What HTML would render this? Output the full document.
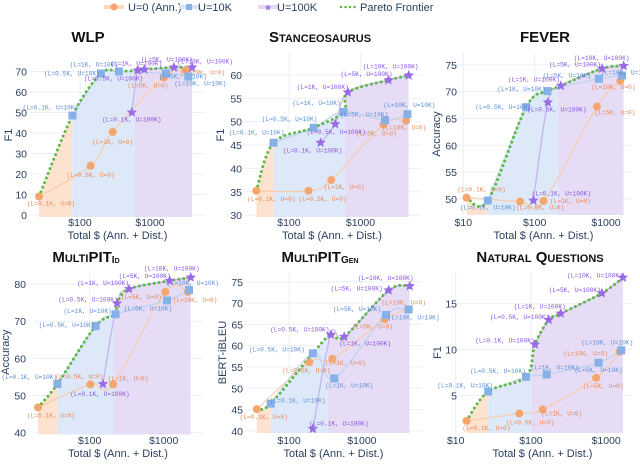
<!DOCTYPE html>
<html><head><meta charset="utf-8">
<style>
html,body{margin:0;padding:0;background:#fff;}
svg{display:block;font-family:"Liberation Sans",sans-serif;}
.tick{font-size:10.5px;fill:#2a3f5f;}
.lbl{font-family:"Liberation Mono",monospace;font-size:6.2px;}
.title{font-size:15px;font-weight:bold;fill:#111;}
.axt{font-size:11px;fill:#2a3f5f;}
</style></head>
<body>
<svg id="chart" width="640" height="476" viewBox="0 0 640 476" xmlns="http://www.w3.org/2000/svg">
<defs id="defs"></defs>
<g id="legend">
  <g>
    <rect x="104" y="5" width="20" height="4" fill="#fbd9bf"/>
    <circle cx="114" cy="7" r="3.5" fill="#f4a66e"/>
    <text x="128" y="11" font-size="11" fill="#2a3f5f">U=0 (Ann.)</text>
  </g>
  <g>
    <rect x="179" y="5" width="20" height="4" fill="#d5e4f7"/>
    <rect x="186" y="4" width="6" height="6" fill="#86b0e6"/>
    <text x="198" y="11" font-size="11" fill="#2a3f5f">U=10K</text>
  </g>
  <g>
    <rect x="258" y="5" width="20" height="4" fill="#e5d9f6"/>
    <text x="268" y="10.5" font-size="9" fill="#9a6be6" text-anchor="middle">★</text>
    <text x="277" y="11" font-size="11" fill="#2a3f5f">U=100K</text>
  </g>
  <g>
    <line x1="341" y1="7" x2="356" y2="7" stroke="#5cb946" stroke-width="2.5" stroke-dasharray="0 4.5" stroke-linecap="round"/>
    <text x="360" y="11" font-size="11" fill="#2a3f5f">Pareto Frontier</text>
  </g>
</g>
<g id="panels"></g>
</svg>
<script>
// ---- data: labeled budgets ----
const budgets = ['0.1K','0.5K','1K','5K','10K'];
const seriesU = ['0','10K','100K'];
// WLP
const wlpCostU0 = [26,142,293,1585,3240];
const wlpValU0 = [9,24,40.5,67,70.5];
const wlpCostU10 = [78,199,360,1690,3540];
const wlpValU10 = [48.5,69,70,69,67.5];
const wlpCostU100 = [550,665,830,2200,4000];
const wlpValU100 = [50,70.5,71,72,72];
const wlpPareto = ['0:0','1:0','1:1','1:2','2:1','2:2','2:3','2:4'];
// Stanceosaurus
const stCostU0 = [35,188,390,2090,4340];
const stValU0 = [35.2,35.2,37.5,49.4,50.2];
const stCostU10 = [61,221,580,2210,4530];
const stValU10 = [45.5,48.7,52.1,50.3,51.6];
const stCostU100 = [277,443,665,2460,4720];
const stValU100 = [45.5,49.5,56.3,58.9,59.9];
const stPareto = ['0:0','1:0','1:1','1:2','2:2','2:3','2:4'];
// FEVER
const fvCostU0 = [11.1,62.5,133,747,1590];
const fvValU0 = [50.25,49.5,49.6,67.2,72.0];
const fvCostU10 = [22,76,151,795,1680];
const fvValU10 = [49.7,67.1,70.1,72.4,73.0];
const fvCostU100 = [96,153,233,880,1770];
const fvValU100 = [49.7,68.0,71.1,74.3,74.8];
const fvPareto = ['0:0','1:0','1:1','1:2','2:2','2:3','2:4'];
// MultiPIT Id
const miCostU0 = [20,102,207,1050,2130];
const miValU0 = [46.8,53.0,53.0,77.9,77.9];
const miCostU10 = [36.6,120,224,1110,2200];
const miValU10 = [53.1,68.7,71.9,75.6,78.4];
const miCostU100 = [151,234,341,1205,2320];
const miValU100 = [53.1,74.8,78.7,80.9,81.8];
const miPareto = ['0:0','1:0','1:1','1:2','2:1','2:2','2:3','2:4'];
// MultiPIT Gen
const mgCostU0 = [36,190,394,2050,4380];
const mgValU0 = [45.1,56.1,56.9,66.2,68.5];
const mgCostU10 = [56,212,417,2140,4380];
const mgValU10 = [46.4,58.2,52.3,67.2,68.5];
const mgCostU100 = [212,374,571,2330,4530];
const mgValU100 = [40.5,62.6,62.1,73.0,74.0];
const mgPareto = ['0:0','1:0','1:1','2:1','2:2','2:3','2:4'];
// Natural Questions
const nqCostU0 = [13.9,70,143,736,1510];
const nqValU0 = [2.25,3.04,3.48,6.92,9.75];
const nqCostU10 = [27,86,162,790,1585];
const nqValU10 = [5.43,7.03,7.28,8.55,9.9];
const nqCostU100 = [113,172,249,875,1670];
const nqValU100 = [10.54,13.2,13.9,16.1,17.8];
const nqPareto = ['0:0','1:0','1:1','2:0','2:1','2:2','2:3','2:4'];

// ---- layout (pixel geometry, label offsets) ----
const panels = [
 {key:'wlp',title:'WLP',titleX:88,titleY:42,yTitle:'F1',yTitleX:9,tickRight:27,
  px0:30,px1:205,lmin:1.286,lmax:3.786,py0:53,py1:217,vmin:-1,vmax:79,
  yTicks:[0,10,20,30,40,50,60,70],xTicks:[100,1000],tickY:226,xTitleY:239,
  cost:[wlpCostU0,wlpCostU10,wlpCostU100],val:[wlpValU0,wlpValU10,wlpValU100],pareto:wlpPareto,
  off:[[[12,7],[0,9],[0,10],[-16,8],[17,2]],[[-22,-8],[-29,0],[-25,-7],[17,3],[12,7]],[[0,7],[-24,8],[-8,-6],[-7,-8],[13,-6]]]},
 {key:'stance',title:'Stanceosaurus',titleX:320,titleY:42,yTitle:'F1',yTitleX:221,tickRight:242,
  px0:243,px1:421,lmin:1.358,lmax:3.846,py0:53,py1:217,vmin:29.6,vmax:64.7,
  yTicks:[30,35,40,45,50,55,60],xTicks:[100,1000],tickY:226,xTitleY:239,
  cost:[stCostU0,stCostU10,stCostU100],val:[stValU0,stValU10,stValU100],pareto:stPareto,
  off:[[[15,8],[14,8],[13,7],[-7,9],[-2,7]],[[-17,-10],[-24,-9],[-27,-9],[-21,-6],[2,-9]],[[-8,8],[1,8],[-25,-5],[-22,-6],[-18,-9]]]},
 {key:'fever',title:'FEVER',titleX:545,titleY:42,yTitle:'Accuracy',yTitleX:437,tickRight:457,
  px0:455,px1:632,lmin:0.883,lmax:3.365,py0:53,py1:215,vmin:47,vmax:77.2,
  yTicks:[50,55,60,65,70,75],xTicks:[10,100,1000],tickY:226,xTitleY:239,
  cost:[fvCostU0,fvCostU10,fvCostU100],val:[fvValU0,fvValU10,fvValU100],pareto:fvPareto,
  off:[[[15,-8],[20,6],[27,0],[18,6],[-7,6]],[[0,7],[-23,0],[-26,-2],[-32,-3],[5,-3]],[[28,-7],[9,7],[-27,-6],[-27,-4],[-22,-8]]]},
 {key:'multipit-id',title:'MultiPIT',sub:'Id',titleX:86,titleY:262,yTitle:'Accuracy',yTitleX:6,tickRight:26,
  px0:33,px1:203,lmin:1.234,lmax:3.531,py0:270,py1:434.5,vmin:39.5,vmax:83.8,
  yTicks:[40,50,60,70,80],xTicks:[100,1000],tickY:444,xTitleY:457,
  cost:[miCostU0,miCostU10,miCostU100],val:[miValU0,miValU10,miValU100],pareto:miPareto,
  off:[[[13,8],[-11,-8],[15,-6],[-24,5],[7,8]],[[-28,-7],[-29,-1],[-28,-3],[-19,8],[4,-7]],[[-3,10],[-29,-4],[-26,-6],[-25,-5],[-19,-9]]]},
 {key:'multipit-gen',title:'MultiPIT',sub:'Gen',titleX:320,titleY:262,yTitle:'BERT-iBLEU',yTitleX:223,tickRight:243,
  px0:245,px1:422,lmin:1.395,lmax:3.825,py0:272,py1:433,vmin:39.5,vmax:77.3,
  yTicks:[40,45,50,55,60,65,70,75],xTicks:[100,1000],tickY:444,xTitleY:457,
  cost:[mgCostU0,mgCostU10,mgCostU100],val:[mgValU0,mgValU10,mgValU100],pareto:mgPareto,
  off:[[[7,8],[-3,8],[13,4],[-12,7],[-5,-7]],[[27,-3],[-36,-4],[15,7],[-29,-6],[5,8]],[[26,-5],[-31,-5],[21,7],[-32,-2],[-24,-8]]]},
 {key:'nq',title:'Natural Questions',titleX:540,titleY:262,yTitle:'F1',yTitleX:438,tickRight:457,
  px0:453,px1:632,lmin:0.964,lmax:3.343,py0:272,py1:433,vmin:0.93,vmax:18.4,
  yTicks:[5,10,15],xTicks:[10,100,1000],tickY:444,xTitleY:457,
  cost:[nqCostU0,nqCostU10,nqCostU100],val:[nqValU0,nqValU10,nqValU100],pareto:nqPareto,
  off:[[[20,7],[11,9],[19,4],[7,8],[-34,2]],[[-23,-6],[-28,-6],[8,-7],[0,7],[-14,-8]],[[-30,-4],[-29,-3],[-21,-7],[-27,-3],[-28,-2]]]}
];
const colors = ['#f4a66e','#86b0e6','#9a6be6'];
const lineColors = ['#f8c9a6','#b9d0f0','#c3a8ef'];
const labColors = ['#e8885a','#5b8fd6','#8a55e0'];
const regionColors = ['#fde3cf','#dde9f8','#e6dcf5'];
const seriesNames = ['u0','u10k','u100k'];
const NS = 'http://www.w3.org/2000/svg';

function mk(tag, attrs, parent){
  const e = document.createElementNS(NS, tag);
  for (const k in attrs) e.setAttribute(k, attrs[k]);
  if (parent) parent.appendChild(e);
  return e;
}
function spline(pts){
  let d = 'M' + pts[0][0] + ',' + pts[0][1];
  for (let i = 0; i < pts.length - 1; i++){
    const p0 = pts[i-1] || pts[i], p1 = pts[i], p2 = pts[i+1], p3 = pts[i+2] || p2;
    const c1 = [p1[0] + (p2[0]-p0[0])/6, p1[1] + (p2[1]-p0[1])/6];
    const c2 = [p2[0] - (p3[0]-p1[0])/6, p2[1] - (p3[1]-p1[1])/6];
    d += ' C' + c1[0] + ',' + c1[1] + ' ' + c2[0] + ',' + c2[1] + ' ' + p2[0] + ',' + p2[1];
  }
  return d;
}
function starPath(cx, cy, R){
  const r = R * 0.45; let d = '';
  for (let i = 0; i < 10; i++){
    const a = -Math.PI/2 + i * Math.PI/5, rr = i % 2 ? r : R;
    d += (i ? 'L' : 'M') + (cx + rr*Math.cos(a)).toFixed(2) + ',' + (cy + rr*Math.sin(a)).toFixed(2);
  }
  return d + 'Z';
}
const root = document.getElementById('panels');
const defs = document.getElementById('defs');

panels.forEach((p, pi) => {
  const xs = c => p.px0 + (Math.log10(c) - p.lmin) / (p.lmax - p.lmin) * (p.px1 - p.px0);
  const ys = v => p.py1 - (v - p.vmin) / (p.vmax - p.vmin) * (p.py1 - p.py0);
  const g = mk('g', {}, root);
  
  

  const grid = mk('g', {}, g);
  
  
  p.yTicks.forEach(v => mk('line', {x1:p.px0, x2:p.px1, y1:ys(v), y2:ys(v), stroke:'#eceff5', 'stroke-width':1}, grid));
  p.xTicks.forEach(v => mk('line', {x1:xs(v), x2:xs(v), y1:p.py0, y2:p.py1, stroke:'#eceff5', 'stroke-width':1}, grid));

  const pts = p.pareto.map(s => { const [si, bi] = s.split(':').map(Number); return [xs(p.cost[si][bi]), ys(p.val[si][bi]), si]; });
  const curve = spline(pts.map(q => [q[0], q[1]]));
  const area = curve + ' L' + pts[pts.length-1][0] + ',' + p.py1 + ' L' + pts[0][0] + ',' + p.py1 + ' Z';
  const b1 = xs(p.cost[1][0]);
  const firstPurple = pts.find(q => q[2] === 2);
  const b2 = firstPurple[0] - 3;
  const bounds = [pts[0][0], b1, b2, pts[pts.length-1][0]];
  const shade = mk('g', {}, g);
  
  
  for (let r = 0; r < 3; r++){
    const id = 'clip-' + pi + '-' + r;
    const cp = mk('clipPath', {id:id}, defs);
    mk('rect', {x:bounds[r], y:0, width:Math.max(0, bounds[r+1]-bounds[r]), height:476}, cp);
    const a = mk('path', {d:area, fill:regionColors[r], 'clip-path':'url(#' + id + ')'}, shade);
    
    
  }

  for (let s = 0; s < 3; s++){
    const sp = p.cost[s].map((c, i) => [xs(c), ys(p.val[s][i])]);
    const ln = mk('path', {d:spline(sp), fill:'none', stroke:lineColors[s], 'stroke-width':1.3, opacity:0.85}, g);
    
    
  }
  const pl = mk('path', {d:curve, fill:'none', stroke:'#5cb946', 'stroke-width':3, 'stroke-dasharray':'0 5', 'stroke-linecap':'round'}, g);
  
  

  for (let s = 0; s < 3; s++){
    p.cost[s].forEach((c, i) => {
      const x = xs(c), y = ys(p.val[s][i]);
      let m;
      if (s === 0) m = mk('circle', {cx:x, cy:y, r:4, fill:colors[0]}, g);
      else if (s === 1) m = mk('rect', {x:x-4, y:y-4, width:8, height:8, fill:colors[1]}, g);
      else m = mk('path', {d:starPath(x, y, 5.5), fill:colors[2]}, g);
      
      
      const o = p.off[s][i];
      const t = mk('text', {x:x + o[0], y:y + o[1] + 2, 'text-anchor':'middle', fill:labColors[s], class:'lbl'}, g);
      t.textContent = '(L=' + budgets[i] + ', U=' + seriesU[s] + ')';
      
      
    });
  }

  p.yTicks.forEach(v => {
    const t = mk('text', {x:p.tickRight, y:ys(v) + 4, 'text-anchor':'end', class:'tick'}, g);
    t.textContent = v;
    
    
  });
  p.xTicks.forEach(v => {
    const t = mk('text', {x:xs(v), y:p.tickY, 'text-anchor':'middle', class:'tick'}, g);
    t.textContent = '$' + v;
    
    
  });
  const xt = mk('text', {x:(p.px0 + p.px1)/2, y:p.xTitleY, 'text-anchor':'middle', class:'axt'}, g);
  xt.textContent = 'Total $ (Ann. + Dist.)';
  
  
  const ym = (p.py0 + p.py1)/2;
  const yt = mk('text', {x:p.yTitleX, y:ym, 'text-anchor':'middle', class:'axt', transform:'rotate(-90 ' + p.yTitleX + ' ' + ym + ')', 'dominant-baseline':'middle'}, g);
  yt.textContent = p.yTitle;
  
  
  const tt = mk('text', {x:p.titleX, y:p.titleY, 'text-anchor':'middle', class:'title', 'font-variant':'small-caps'}, g);
  tt.textContent = p.title;
  if (p.sub){
    const ts = mk('tspan', {'font-size':'10', dy:'1'}, tt);
    ts.textContent = p.sub;
  }
  
  
});
</script>
</body></html>
